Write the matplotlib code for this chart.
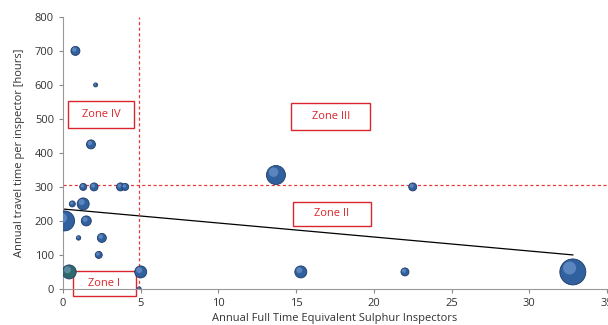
import matplotlib.pyplot as plt
from matplotlib.patches import Rectangle
import numpy as np

# bubble data
fte = [0.8, 2.1, 1.8, 1.3, 2.0, 3.7, 4.0, 0.6, 1.3, 0.1, 1.5, 1.0, 2.5, 2.3, 0.4, 5.0, 4.9,
       13.7, 22.5, 15.3, 22.0, 32.8]
travel = [700, 600, 425, 300, 300, 300, 300, 250, 250, 200, 200, 150, 150, 100, 50, 50, 0,
          335, 300, 50, 50, 50]
radius_px = [4.5, 2, 4.5, 3.5, 4, 4, 3.5, 3, 6, 10, 5, 2.2, 4.5, 3.5, 7, 6, 2,
             9.5, 4, 6, 4, 13]

trend_x = [0, 32.8]
trend_y = [235, 100]

# zone boxes: label, x0, x1, y0, y1
zones = ["Zone IV", "Zone III", "Zone II", "Zone I"]
zone_x0 = [0.32, 14.7, 14.8, 0.64]
zone_x1 = [4.6, 19.75, 19.8, 4.7]
zone_y0 = [473, 468, 185, -21]
zone_y1 = [553, 547, 256, 53]

fig = plt.figure(figsize=(6.08, 3.25), dpi=100)
plt.rcParams['font.family'] = ['Open Sans', 'DejaVu Sans']
ax = fig.add_axes([0.1036, 0.111, 0.8948, 0.837])

sizes = [(2 * r * 0.72) ** 2 for r in radius_px]
hi = [(1.0 * r * 0.72) ** 2 for r in radius_px]
colors = ['#31609f'] * len(fte)
colors[14] = '#2e6a6a'
ax.scatter(fte, travel, s=sizes, c=colors, edgecolors='#1d3a66', linewidths=0.6, zorder=3)
# highlight to fake the 3d look
xs = np.array(fte) - 0.25 * np.array(radius_px) / 15.55
ys = np.array(travel) + 0.3 * np.array(radius_px) / 0.34
ax.scatter(xs, ys, s=hi, c='#8fb3e6', alpha=0.45, linewidths=0, zorder=4)

ax.plot(trend_x, trend_y, color='black', lw=0.9, zorder=2)
ax.axvline(4.9, color='#e8393c', ls=(0, (2.5, 2)), lw=0.9)
ax.axhline(305, color='#e8393c', ls=(0, (2.5, 2)), lw=0.9)

for label, x0, x1, y0, y1 in zip(zones, zone_x0, zone_x1, zone_y0, zone_y1):
    ax.add_patch(Rectangle((x0, y0), x1 - x0, y1 - y0, fc='white', ec='#d9252b',
                           lw=1.0, clip_on=False, zorder=2.5))
    ax.text((x0 + x1) / 2, (y0 + y1) / 2, label, ha='center', va='center', fontsize=8,
            color='#d9252b', clip_on=False, zorder=2.6)

ax.set_xlim(0, 35)
ax.set_ylim(0, 800)
ax.set_xticks(range(0, 36, 5))
ax.set_yticks(range(0, 801, 100))
ax.tick_params(labelsize=8, color='#888888', length=3, labelcolor='#333333')
for s in ['top', 'right']:
    ax.spines[s].set_visible(False)
for s in ['left', 'bottom']:
    ax.spines[s].set_color('#999999')
ax.set_xlabel('Annual Full Time Equivalent Sulphur Inspectors', fontsize=8, color='#333333', labelpad=3)
ax.set_ylabel('Annual travel time per inspector [hours]', fontsize=8, color='#333333', labelpad=7)

fig.savefig('out.png', dpi=100)
